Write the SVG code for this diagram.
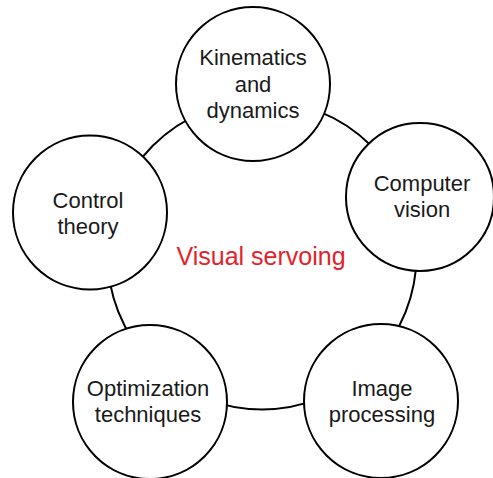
<svg xmlns="http://www.w3.org/2000/svg" width="493" height="478" viewBox="0 0 493 478">
<style>
.node{fill:#fff;stroke:#000;stroke-width:2}
.ring{fill:none;stroke:#000;stroke-width:2}
.lbl{font-family:"Liberation Sans",Arial,sans-serif;font-size:22px;fill:#1a1a1a;text-anchor:middle}
.title{font-family:"Liberation Sans",Arial,sans-serif;font-size:25px;fill:#e3232c;text-anchor:middle}
</style>
<rect width="493" height="478" fill="#fff"/>
<g id="connectors">
<circle class="ring" cx="262" cy="255" r="154.5"/>
</g>
<g id="center">
<text class="title" x="261" y="265">Visual servoing</text>
</g>
<g id="node-kinematics">
<circle class="node" cx="253" cy="84" r="77"/>
<text class="lbl" x="253" y="65">Kinematics</text>
<text class="lbl" x="253" y="92">and</text>
<text class="lbl" x="253" y="118">dynamics</text>
</g>
<g id="node-control">
<circle class="node" cx="90" cy="212.5" r="77"/>
<text class="lbl" x="88" y="208">Control</text>
<text class="lbl" x="88" y="234">theory</text>
</g>
<g id="node-vision">
<circle class="node" cx="420" cy="197" r="74"/>
<text class="lbl" x="422" y="191">Computer</text>
<text class="lbl" x="422" y="217">vision</text>
</g>
<g id="node-optimization">
<circle class="node" cx="150" cy="402" r="77"/>
<text class="lbl" x="148" y="396">Optimization</text>
<text class="lbl" x="148" y="422">techniques</text>
</g>
<g id="node-image">
<circle class="node" cx="381" cy="401" r="77"/>
<text class="lbl" x="382" y="396">Image</text>
<text class="lbl" x="382" y="422">processing</text>
</g>
</svg>
